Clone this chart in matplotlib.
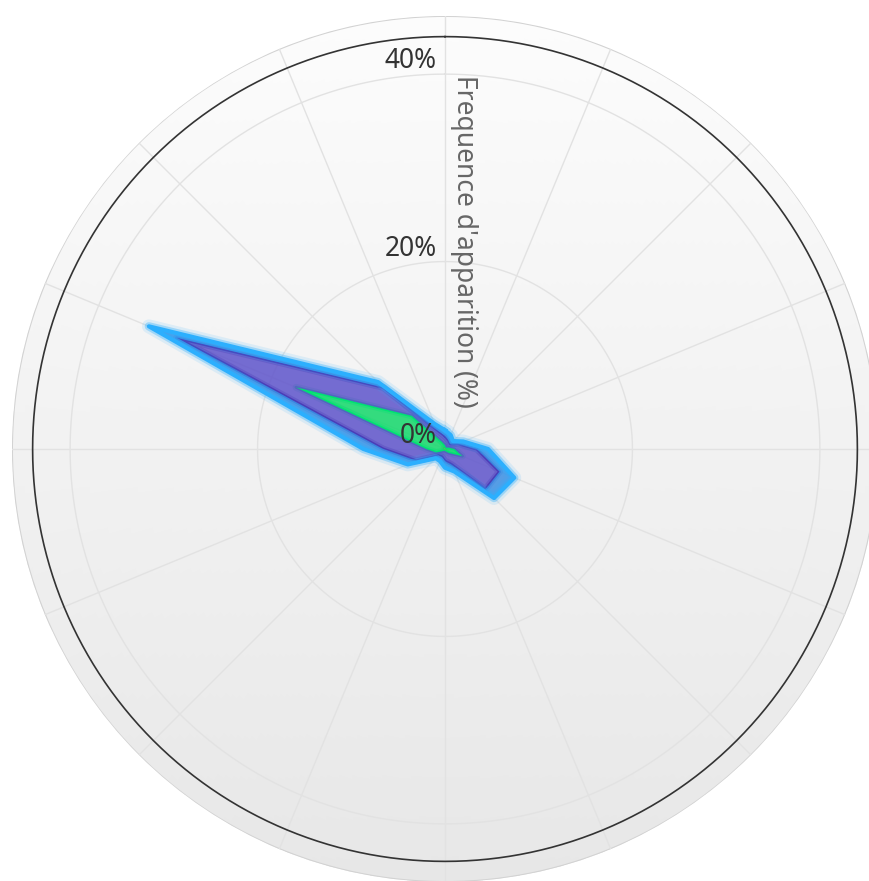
import numpy as np
import matplotlib.pyplot as plt
from matplotlib.colors import LinearSegmentedColormap
import matplotlib.patheffects as pe

# Wind directions (16 sectors, clockwise from North)
directions = ['N', 'NNE', 'NE', 'ENE', 'E', 'ESE', 'SE', 'SSE',
              'S', 'SSW', 'SW', 'WSW', 'W', 'WNW', 'NW', 'NNW']

# Occurrence frequency (%) per sector for each stacked series (first = outermost)
serie_1 = [0.6, 0.6, 0.4, 0.6, 1.2, 1.7, 1.3, 0.8, 0.7, 0.5, 0.4, 1.0, 2.1, 3.2, 0.8, 0.7]
serie_2 = [1.0, 0.8, 0.6, 1.1, 2.4, 4.3, 5.5, 1.5, 1.1, 0.7, 0.7, 2.3, 4.6, 13.8, 4.3, 1.4]
serie_3 = [0.3, 0.1, 0.1, 0.3, 0.9, 1.9, 0.5, 0.2, 0.1, 0.1, 0.2, 0.9, 1.9, 17.1, 4.9, 0.7]
serie_4 = [0.1, 0.1, 0.1, 0.1, 0.1, 0.1, 0.1, 0.1, 0.1, 0.1, 0.1, 0.1, 0.1, 0.1, 0.1, 0.1]

fill_colors = ['#3b8fe4', '#5e54cb', '#12d86a', '#fe6a35']
line_colors = ['#2caffe', '#4a3db8', '#00e272', '#fe6a35']

y_ticks = [0, 20, 40]
y_tick_labels = ['0%', '20%', '40%']
axis_title = "Frequence d'apparition (%)"
y_max = 44

FONT = ['Noto Sans', 'DejaVu Sans']
W, H = 870, 881
cx, cy = 445, 449          # pane centre (pixels, from top-left)
pane_radius = y_max * 1.05
R = 433                    # pane radius in pixels

fig = plt.figure(figsize=(W / 100, H / 100), dpi=100)
fig.patch.set_facecolor('white')
ax = fig.add_axes([(cx - R) / W, (H - cy - R) / H, 2 * R / W, 2 * R / H],
                  projection='polar')
ax.set_theta_zero_location('N')
ax.set_theta_direction(-1)
ax.set_ylim(0, pane_radius)
ax.axis('off')

# Pane background: vertical gradient near-white -> light grey
th = np.linspace(0, 2 * np.pi, 361)
rr = np.linspace(0, pane_radius, 121)
TH, RR = np.meshgrid(th, rr)
thm = 0.5 * (TH[:-1, :-1] + TH[:-1, 1:])
rm = 0.5 * (RR[:-1, :-1] + RR[1:, :-1])
vert = rm * np.cos(thm)
shade = (pane_radius - vert) / (2 * pane_radius)
cmap = LinearSegmentedColormap.from_list('pane', ['#fcfcfc', '#e7e7e7'])
ax.pcolormesh(TH, RR, shade, cmap=cmap, vmin=0, vmax=1, shading='flat',
              zorder=0, rasterized=True)

full = np.linspace(0, 2 * np.pi, 721)
ax.plot(full, np.full_like(full, pane_radius), color='#d2d2d2', lw=1.4, zorder=1)

# Grid
theta = np.deg2rad(np.arange(len(directions)) * 360 / len(directions))
for a in theta:
    ax.plot([a, a], [0, pane_radius], color='#e2e2e2', lw=1, zorder=1)
for v in y_ticks[1:]:
    ax.plot(full, np.full_like(full, v), color='#e2e2e2', lw=1, zorder=1)
ax.plot(full, np.full_like(full, y_max), color='#333333', lw=1.2, zorder=1)

# Stacked areas (last series at the bottom of the stack)
def closed(a):
    a = np.asarray(a, dtype=float)
    return np.append(a, a[0])

tc = closed(theta)
stack = [serie_4, serie_3, serie_2, serie_1]
fills = fill_colors[::-1]
lines = line_colors[::-1]
base = np.zeros(len(directions))
for k, (vals, fc, lc) in enumerate(zip(stack, fills, lines)):
    top = base + np.asarray(vals)
    ax.fill(np.concatenate([tc, tc[::-1]]),
            np.concatenate([closed(top), closed(base)[::-1]]),
            color=fc, alpha=0.85, lw=0, zorder=2 + k)
    if k == len(stack) - 1:
        effects = [pe.Stroke(linewidth=10, foreground=lc, alpha=0.12),
                   pe.Stroke(linewidth=6, foreground=lc, alpha=0.35),
                   pe.Normal()]
        lw = 3
    else:
        effects = [pe.Stroke(linewidth=5, foreground=lc, alpha=0.3), pe.Normal()]
        lw = 2.2
    ax.plot(tc, closed(top), color=lc, lw=lw, zorder=2.5 + k,
            path_effects=effects, solid_joinstyle='round')
    base = top

# Radial axis labels
for v, lbl in zip(y_ticks, y_tick_labels):
    ax.annotate(lbl, xy=(0, v), xytext=(-8, 13), textcoords='offset pixels',
                ha='right', va='center', fontsize=19, color='#333333',
                family=FONT, zorder=10)

fig.text(464 / W, 1 - 241 / H, axis_title, rotation=-90, ha='center',
         va='center', fontsize=19, color='#666666', family=FONT)

fig.savefig('out.png', dpi=100, facecolor='white')
